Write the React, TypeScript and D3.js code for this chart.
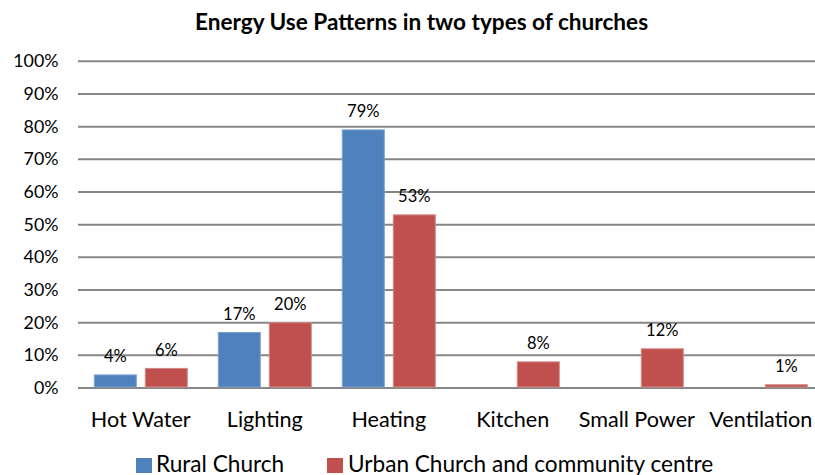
import React from "react";
import * as d3 from "d3";

const categories = ["Hot Water", "Lighting", "Heating", "Kitchen", "Small Power", "Ventilation"];
const seriesNames = ["Rural Church", "Urban Church and community centre"];
const ruralValues: (number | null)[] = [0.04, 0.17, 0.79, null, null, null];
const urbanValues: (number | null)[] = [0.06, 0.20, 0.53, 0.08, 0.12, 0.01];
const yTicks = [0, 0.1, 0.2, 0.3, 0.4, 0.5, 0.6, 0.7, 0.8, 0.9, 1.0];
const colors = ["#4F81BD", "#C0504D"];
const strokeColors = ["#7BA0CD", "#D28A88"];

const W = 815;
const H = 475;
const FONT = "Lato, 'Open Sans', sans-serif";

export default function App() {
  const x0 = d3.scaleBand<string>().domain(categories).range([78.8, 822.8]).paddingInner(0).paddingOuter(0);
  const x1 = d3.scaleBand<string>().domain(["0", "1"]).range([15.5, 108.5]).paddingInner(9 / 51).paddingOuter(0);
  const y = d3.scaleLinear().domain([0, 1]).range([388, 61.3]);
  const fmt = d3.format(".0%");
  const series = [ruralValues, urbanValues];

  return (
    <svg width={W} height={H} style={{ position: "absolute", left: 0, top: 0, background: "#fff" }}>
      <rect x={0} y={0} width={W} height={H} fill="#fff" />
      <text x={421.5} y={30} textAnchor="middle" fontFamily={FONT} fontWeight="bold" fontSize={22.6} fill="#000">
        Energy Use Patterns in two types of churches
      </text>
      {yTicks.map((t) => (
        <g key={t}>
          <line x1={78} x2={W} y1={y(t)} y2={y(t)} stroke="#868686" strokeWidth={2} />
          <text x={58.5} y={y(t) + 6} textAnchor="end" fontFamily={FONT} fontSize={17.8} fill="#000">
            {fmt(t)}
          </text>
        </g>
      ))}
      {categories.map((c, i) => (
        <g key={c}>
          {series.map((vals, s) => {
            const v = vals[i];
            if (v == null) return null;
            const bx = (x0(c) as number) + (x1(String(s)) as number);
            const bw = x1.bandwidth();
            return (
              <g key={s}>
                <rect x={bx} y={y(v)} width={bw} height={y(0) - y(v) - 1} fill={colors[s]} stroke={strokeColors[s]} strokeWidth={1} />
                <text x={bx + bw / 2} y={y(v) - 12.5} textAnchor="middle" fontFamily={FONT} fontSize={16.5} fill="#000">
                  {fmt(v)}
                </text>
              </g>
            );
          })}
          <text x={(x0(c) as number) + x0.bandwidth() / 2} y={426.5} textAnchor="middle" fontFamily={FONT} fontSize={21.6} fill="#000">
            {c}
          </text>
        </g>
      ))}
      <g>
        <rect x={136} y={458} width={16} height={15} fill={colors[0]} />
        <text x={156} y={472} fontFamily={FONT} fontSize={22.6} fill="#000">{seriesNames[0]}</text>
        <rect x={327} y={458} width={16} height={15} fill={colors[1]} />
        <text x={348} y={472} fontFamily={FONT} fontSize={22.6} fill="#000">{seriesNames[1]}</text>
      </g>
    </svg>
  );
}
